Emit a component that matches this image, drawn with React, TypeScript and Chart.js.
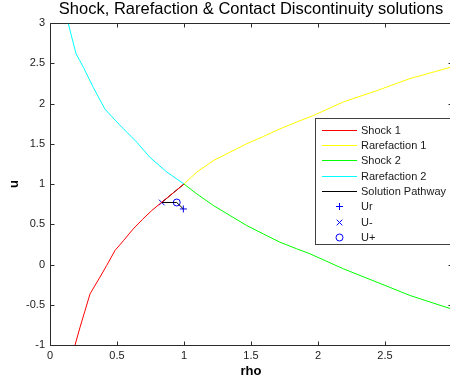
import React, { useEffect, useRef } from 'react';
import { Chart, registerables } from 'chart.js';

Chart.register(...registerables);

// ---------- data ----------
const TITLE = 'Shock, Rarefaction & Contact Discontinuity solutions';
const X_LABEL = 'rho';
const Y_LABEL = 'u';
const X_MIN = 0;
const X_MAX = 3;
const Y_MIN = -1;
const Y_MAX = 3;
const X_STEP = 0.5;
const Y_STEP = 0.5;

const seriesNames = ['Shock 1', 'Rarefaction 1', 'Shock 2', 'Rarefaction 2', 'Solution Pathway', 'Ur', 'U-', 'U+'];

const shock1Rho = [1.0, 0.92, 0.834, 0.759, 0.69, 0.62, 0.55, 0.485, 0.423, 0.373, 0.299, 0.26, 0.224, 0.187];
const shock1U = [1.0, 0.89, 0.774, 0.67, 0.56, 0.44, 0.3, 0.174, -0.012, -0.157, -0.364, -0.58, -0.78, -1.0];

const rare1Rho = [1.0, 1.095, 1.219, 1.343, 1.468, 1.592, 1.716, 1.841, 1.965, 2.19, 2.44, 2.687, 3.0];
const rare1U = [1.0, 1.147, 1.29, 1.395, 1.5, 1.59, 1.685, 1.77, 1.85, 2.02, 2.16, 2.31, 2.455];

const shock2Rho = [1.0, 1.095, 1.219, 1.343, 1.468, 1.592, 1.716, 1.841, 1.94, 2.19, 2.44, 2.687, 3.0];
const shock2U = [1.0, 0.878, 0.733, 0.609, 0.484, 0.38, 0.277, 0.195, 0.133, -0.054, -0.22, -0.385, -0.555];

const rare2Rho = [1.0, 0.871, 0.746, 0.647, 0.522, 0.41, 0.323, 0.249, 0.194, 0.137];
const rare2U = [1.0, 1.15, 1.33, 1.52, 1.73, 1.93, 2.2, 2.45, 2.62, 2.99];

const pathRho = [1.0, 0.92, 0.834, 0.946, 0.995];
const pathU = [1.0, 0.89, 0.77, 0.77, 0.69];

const urPoint = { rho: 0.995, u: 0.69 };
const uMinusPoint = { rho: 0.834, u: 0.77 };
const uPlusPoint = { rho: 0.946, u: 0.77 };

// ---------- styles ----------
const FONT = '"Liberation Sans", Arial, Helvetica, sans-serif';
const FRAME = '#2b2b2b';
const TEXT = '#1a1a1a';
const BLUE = '#0000ff';

const toPts = (xs: number[], ys: number[]) => xs.map((x, i) => ({ x, y: ys[i] }));

const lineDs = (label: string, xs: number[], ys: number[], color: string) => ({
  label,
  data: toPts(xs, ys),
  showLine: true,
  borderColor: color,
  backgroundColor: color,
  borderWidth: 1,
  pointRadius: 0,
  tension: 0,
});

const markerDs = (label: string, p: { rho: number; u: number }, style: string, r: number) => ({
  label,
  data: [{ x: p.rho, y: p.u }],
  showLine: false,
  pointStyle: style,
  pointRadius: r,
  borderColor: BLUE,
  pointBorderColor: BLUE,
  backgroundColor: 'rgba(0,0,0,0)',
  pointBackgroundColor: 'rgba(0,0,0,0)',
  pointBorderWidth: 1,
  borderWidth: 1,
});

const framePlugin = {
  id: 'matlabFrame',
  beforeDatasetsDraw(chart: any) {
    const { ctx, chartArea: a, scales } = chart;
    const xs = scales.x;
    const ys = scales.y;
    const L = Math.round(a.left) + 0.5;
    const T = Math.round(a.top) + 0.5;
    const B = Math.round(a.bottom) + 0.5;
    const R = Math.round(a.right) + 0.5;
    const TL = 4;
    ctx.save();
    ctx.strokeStyle = FRAME;
    ctx.lineWidth = 1;
    ctx.beginPath();
    ctx.moveTo(L, T);
    ctx.lineTo(R, T);
    ctx.moveTo(L, T);
    ctx.lineTo(L, B);
    ctx.lineTo(R, B);
    ctx.lineTo(R, T);
    xs.ticks.forEach((t: any) => {
      const px = Math.round(xs.getPixelForValue(t.value)) + 0.5;
      ctx.moveTo(px, B);
      ctx.lineTo(px, B - TL);
      ctx.moveTo(px, T);
      ctx.lineTo(px, T + TL);
    });
    ys.ticks.forEach((t: any) => {
      const py = Math.round(ys.getPixelForValue(t.value)) + 0.5;
      ctx.moveTo(L, py);
      ctx.lineTo(L + TL, py);
      ctx.moveTo(R, py);
      ctx.lineTo(R - TL, py);
    });
    ctx.stroke();
    ctx.restore();
  },
};

const legendPlugin = {
  id: 'boxLegend',
  afterDatasetsDraw(chart: any) {
    const { ctx } = chart;
    const x0 = 315.5;
    const y0 = 118.5;
    const x1 = 470;
    const y1 = 244.5;
    ctx.save();
    ctx.fillStyle = '#ffffff';
    ctx.fillRect(x0, y0, x1 - x0, y1 - y0);
    ctx.strokeStyle = '#404040';
    ctx.lineWidth = 1;
    ctx.strokeRect(x0, y0, x1 - x0, y1 - y0);
    ctx.font = `11px ${FONT}`;
    ctx.textBaseline = 'middle';
    ctx.textAlign = 'left';
    chart.data.datasets.forEach((ds: any, i: number) => {
      const cy = Math.round(129.5 + i * 15.35) + 0.5;
      const mx = 339.5;
      ctx.strokeStyle = ds.borderColor;
      ctx.lineWidth = 1;
      ctx.beginPath();
      if (ds.showLine) {
        ctx.moveTo(322, cy);
        ctx.lineTo(357, cy);
      } else if (ds.pointStyle === 'cross') {
        const r = ds.pointRadius;
        ctx.moveTo(mx - r, cy);
        ctx.lineTo(mx + r, cy);
        ctx.moveTo(mx, cy - r);
        ctx.lineTo(mx, cy + r);
      } else if (ds.pointStyle === 'crossRot') {
        const r = ds.pointRadius * Math.SQRT1_2;
        ctx.moveTo(mx - r, cy - r);
        ctx.lineTo(mx + r, cy + r);
        ctx.moveTo(mx - r, cy + r);
        ctx.lineTo(mx + r, cy - r);
      } else {
        ctx.arc(mx, cy, ds.pointRadius, 0, Math.PI * 2);
      }
      ctx.stroke();
      ctx.fillStyle = TEXT;
      ctx.fillText(ds.label, 361, cy);
    });
    ctx.restore();
  },
};

export default function App() {
  const ref = useRef<HTMLCanvasElement>(null);

  useEffect(() => {
    document.body.style.margin = '0';
    const canvas = ref.current;
    if (!canvas) return;
    const chart = new Chart(canvas, {
      type: 'scatter',
      data: {
        datasets: [
          lineDs(seriesNames[0], shock1Rho, shock1U, '#ff0000'),
          lineDs(seriesNames[1], rare1Rho, rare1U, '#ffff00'),
          lineDs(seriesNames[2], shock2Rho, shock2U, '#00ff00'),
          lineDs(seriesNames[3], rare2Rho, rare2U, '#00ffff'),
          lineDs(seriesNames[4], pathRho, pathU, '#000000'),
          markerDs(seriesNames[5], urPoint, 'cross', 3.5),
          markerDs(seriesNames[6], uMinusPoint, 'crossRot', 4),
          markerDs(seriesNames[7], uPlusPoint, 'circle', 3.5),
        ] as any,
      },
      options: {
        responsive: false,
        animation: false,
        events: [],
        layout: { padding: { left: 0, right: 8, top: 0, bottom: 0 } },
        plugins: {
          legend: { display: false },
          tooltip: { enabled: false },
          title: {
            display: true,
            text: TITLE,
            color: '#000',
            fullSize: false,
            font: { family: FONT, size: 16.5, weight: 'normal', lineHeight: 1.2 },
            padding: { top: 0, bottom: 3.2 },
          },
        },
        scales: {
          x: {
            type: 'linear',
            min: X_MIN,
            max: X_MAX,
            grid: { display: false, drawTicks: false },
            border: { display: false },
            ticks: {
              stepSize: X_STEP,
              padding: 4,
              color: TEXT,
              font: { family: FONT, size: 11 },
              maxRotation: 0,
              callback: (v: any) => (Number(v) >= X_MAX ? '' : String(v)),
            },
            title: {
              display: true,
              text: X_LABEL,
              color: '#000',
              font: { family: FONT, size: 13, weight: 'bold' },
              padding: { top: 0, bottom: 4 },
            },
            afterFit: (s: any) => {
              s.height = 38;
            },
          },
          y: {
            type: 'linear',
            min: Y_MIN,
            max: Y_MAX,
            grid: { display: false, drawTicks: false },
            border: { display: false },
            ticks: {
              stepSize: Y_STEP,
              padding: 5,
              color: TEXT,
              font: { family: FONT, size: 11 },
              callback: (v: any) => String(v),
            },
            title: {
              display: true,
              text: Y_LABEL,
              color: '#000',
              font: { family: FONT, size: 13, weight: 'bold' },
              padding: { top: 7, bottom: 0 },
            },
            afterFit: (s: any) => {
              s.width = 50;
            },
          },
        },
      } as any,
      plugins: [framePlugin, legendPlugin],
    });
    return () => chart.destroy();
  }, []);

  return (
    <div style={{ width: 450, height: 383, overflow: 'hidden', background: '#fff' }}>
      <canvas ref={ref} width={460} height={383} style={{ display: 'block' }} />
    </div>
  );
}
